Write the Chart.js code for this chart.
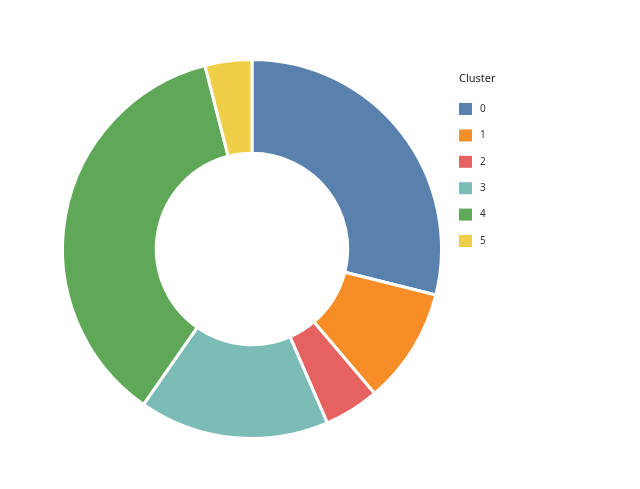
<!DOCTYPE html>
<html>
<head>
<meta charset="utf-8">
<script src="https://cdn.jsdelivr.net/npm/chart.js@4"></script>
<style>
  html, body { margin: 0; padding: 0; background: #fff; }
  #wrap { width: 640px; height: 489px; }
</style>
</head>
<body>
<div id="wrap"><canvas id="donut"></canvas></div>
<script>
const clusters = ['0', '1', '2', '3', '4', '5'];
const shares = [28.9, 9.9, 4.7, 16.2, 36.3, 4.0];
const colors = ['#4c78a8', '#f58518', '#e45756', '#72b7b2', '#54a24b', '#eeca3b'];

// legend on the right, vega style
const sideLegend = {
    id: 'sideLegend',
    afterDraw(chart) {
        const c = chart.ctx;
        c.save();
        c.textBaseline = 'middle';
        c.fillStyle = '#222';
        c.font = '11px "Noto Sans", sans-serif';
        c.fillText('Cluster', 459, 79);
        c.font = '10px "Noto Sans", sans-serif';
        clusters.forEach((lbl, i) => {
            const y = 109 + i * 26.4;
            c.globalAlpha = 0.93;
            c.fillStyle = colors[i];
            c.fillRect(459, y - 6, 13, 12);
            c.globalAlpha = 1;
            c.fillStyle = '#333';
            c.fillText(lbl, 480, y);
        });
        c.restore();
    }
};

const myChart = new Chart(document.getElementById('donut'), {
    type: 'doughnut',
    data: {
        labels: clusters,
        datasets: [{
            data: shares,
            backgroundColor: colors.map(col => col + 'ee'),
            borderColor: '#fff',
            borderWidth: 3
        }]
    },
    options: {
        responsive: true,
        maintainAspectRatio: false,
        animation: false,
        cutout: '50.5%',
        layout: { padding: { left: 61, right: 197, top: 58, bottom: 49 } },
        plugins: {
            legend: { display: false },
            tooltip: { enabled: false }
        }
    },
    plugins: [sideLegend]
});
</script>
</body>
</html>
